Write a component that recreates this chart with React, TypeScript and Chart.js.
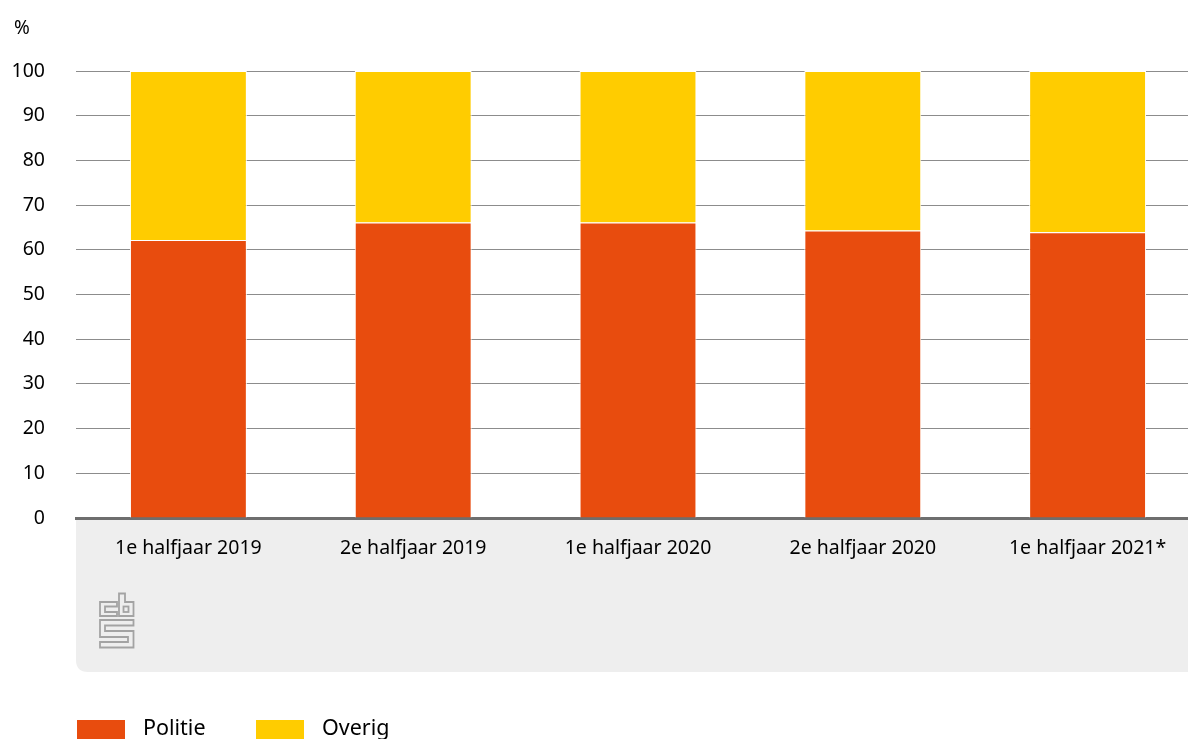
import React, { useEffect, useRef } from "react";
import { Chart, registerables } from "chart.js";

Chart.register(...registerables);

const categories = [
  "1e halfjaar 2019",
  "2e halfjaar 2019",
  "1e halfjaar 2020",
  "2e halfjaar 2020",
  "1e halfjaar 2021*",
];
const politie = [62.2, 66.1, 66.1, 64.3, 63.9];
const overig = [37.8, 33.9, 33.9, 35.7, 36.1];
const seriesLabels = ["Politie", "Overig"];
const seriesColors = ["#e84c0e", "#ffcc00"];
const yTicks = [0, 10, 20, 30, 40, 50, 60, 70, 80, 90, 100];

const FONT = "'Noto Sans', sans-serif";

const decorPlugin = {
  id: "decor",
  beforeDraw(chart: any) {
    const { ctx, chartArea } = chart;
    const left = chartArea.left;
    const top = chartArea.bottom;
    const bottom = 672;
    const right = chart.width + 10;
    const r = 12;
    ctx.save();
    ctx.fillStyle = "#eeeeee";
    ctx.beginPath();
    ctx.moveTo(left, top);
    ctx.lineTo(right, top);
    ctx.lineTo(right, bottom);
    ctx.lineTo(left + r, bottom);
    ctx.quadraticCurveTo(left, bottom, left, bottom - r);
    ctx.closePath();
    ctx.fill();

    // CBS logo
    ctx.strokeStyle = "#a3a3a3";
    ctx.lineWidth = 1.8;
    ctx.lineJoin = "miter";
    // c
    ctx.beginPath();
    ctx.moveTo(117, 602);
    ctx.lineTo(100, 602);
    ctx.lineTo(100, 616);
    ctx.lineTo(117, 616);
    ctx.lineTo(117, 612);
    ctx.lineTo(105, 612);
    ctx.lineTo(105, 606.5);
    ctx.lineTo(117, 606.5);
    ctx.closePath();
    ctx.stroke();
    // b
    ctx.beginPath();
    ctx.moveTo(119, 593.5);
    ctx.lineTo(125, 593.5);
    ctx.lineTo(125, 602);
    ctx.lineTo(133.5, 602);
    ctx.lineTo(133.5, 616);
    ctx.lineTo(119, 616);
    ctx.closePath();
    ctx.stroke();
    ctx.strokeRect(123.5, 606.5, 5, 5.5);
    // s
    ctx.beginPath();
    ctx.moveTo(133.5, 620);
    ctx.lineTo(100, 620);
    ctx.lineTo(100, 637);
    ctx.lineTo(128, 637);
    ctx.lineTo(128, 642);
    ctx.lineTo(100, 642);
    ctx.lineTo(100, 647.5);
    ctx.lineTo(133.5, 647.5);
    ctx.lineTo(133.5, 631);
    ctx.lineTo(105, 631);
    ctx.lineTo(105, 625.5);
    ctx.lineTo(133.5, 625.5);
    ctx.closePath();
    ctx.stroke();
    ctx.restore();
  },
  afterDraw(chart: any) {
    const { ctx } = chart;
    ctx.save();
    ctx.fillStyle = "#000";
    ctx.font = `19px ${FONT}`;
    ctx.textBaseline = "alphabetic";
    ctx.textAlign = "left";
    ctx.fillText("%", 14, 34);

    // legend
    const boxX = [77, 256];
    ctx.font = `21.5px ${FONT}`;
    chart.data.datasets.forEach((ds: any, i: number) => {
      ctx.fillStyle = ds.backgroundColor;
      ctx.fillRect(boxX[i], 720, 48, 22);
      ctx.fillStyle = "#000";
      ctx.fillText(ds.label, boxX[i] + 66, 735);
    });
    ctx.restore();
  },
};

export default function App() {
  const canvasRef = useRef<HTMLCanvasElement | null>(null);

  useEffect(() => {
    const canvas = canvasRef.current;
    if (!canvas) return;
    const chart = new Chart(canvas, {
      type: "bar",
      data: {
        labels: categories,
        datasets: [
          {
            label: seriesLabels[0],
            data: politie,
            backgroundColor: seriesColors[0],
            borderColor: "#ffffff",
            borderWidth: 1,
            barPercentage: 0.52,
            categoryPercentage: 1,
          },
          {
            label: seriesLabels[1],
            data: overig,
            backgroundColor: seriesColors[1],
            borderColor: "#ffffff",
            borderWidth: 1,
            barPercentage: 0.52,
            categoryPercentage: 1,
          },
        ],
      },
      options: {
        animation: false,
        responsive: false,
        devicePixelRatio: 1,
        layout: { padding: { top: 71, left: 0, right: 0, bottom: 0 } },
        plugins: {
          legend: { display: false },
          tooltip: { enabled: false },
          title: { display: false },
        },
        scales: {
          x: {
            stacked: true,
            grid: { display: false, drawTicks: false },
            border: { display: true, color: "#6e6e6e", width: 3 },
            ticks: {
              color: "#000",
              font: { family: FONT, size: 19.5 },
              padding: 19,
              maxRotation: 0,
              autoSkip: false,
            },
            afterFit(scale: any) {
              scale.height = 221;
            },
          },
          y: {
            stacked: true,
            min: 0,
            max: 100,
            afterBuildTicks(scale: any) {
              scale.ticks = yTicks.map((v) => ({ value: v }));
            },
            grid: { color: "#8c8c8c", lineWidth: 1, drawTicks: false },
            border: { display: false },
            ticks: {
              color: "#000",
              font: { family: FONT, size: 19.5 },
              padding: 31,
            },
            afterFit(scale: any) {
              scale.width = 76;
            },
          },
        },
      },
      plugins: [decorPlugin],
    });
    return () => chart.destroy();
  }, []);

  return (
    <div
      style={{
        position: "fixed",
        left: 0,
        top: 0,
        width: 1188,
        height: 739,
        overflow: "hidden",
        background: "#fff",
      }}
    >
      <canvas ref={canvasRef} width={1200} height={739} style={{ width: 1200, height: 739, display: "block" }} />
    </div>
  );
}
